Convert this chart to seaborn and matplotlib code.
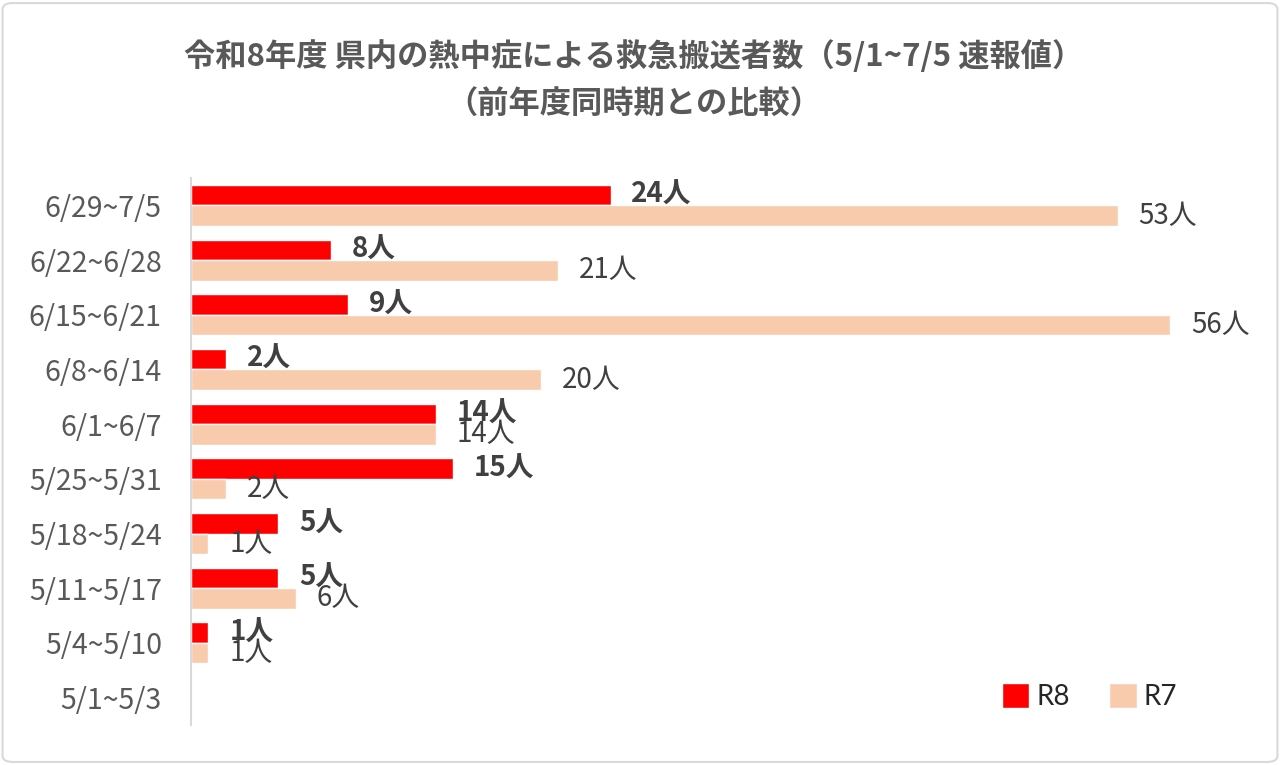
import pandas as pd
import matplotlib.pyplot as plt
import seaborn as sns
from matplotlib.patches import FancyBboxPatch

# Weekly heatstroke transports (top row = most recent week)
periods = ['6/29~7/5', '6/22~6/28', '6/15~6/21', '6/8~6/14', '6/1~6/7',
           '5/25~5/31', '5/18~5/24', '5/11~5/17', '5/4~5/10', '5/1~5/3']
r8 = [24, 8, 9, 2, 14, 15, 5, 5, 1, 0]
r7 = [53, 21, 56, 20, 14, 2, 1, 6, 1, 0]
series = ['R8', 'R7']
colors = {'R8': '#FF0000', 'R7': '#F8CBAD'}

title1 = '令和8年度 県内の熱中症による救急搬送者数（5/1~7/5 速報値）'
title2 = '（前年度同時期との比較）'

df = pd.DataFrame({'period': periods, 'R8': r8, 'R7': r7})
long_df = df.melt(id_vars='period', value_vars=series, var_name='year', value_name='count')

sns.set_style('white')
plt.rcParams['font.family'] = ['Noto Sans CJK JP', 'DejaVu Sans']

fig = plt.figure(figsize=(12.8, 7.65), dpi=100)
ax = fig.add_axes([0.1492, 0.0523, 0.8195, 0.715])

sns.barplot(data=long_df, x='count', y='period', hue='year', order=periods,
            hue_order=series, palette=colors, width=0.75, saturation=1,
            orient='h', ax=ax)

ax.set_xlim(0, 60)
ax.set_ylim(9.5, -0.5)
ax.set_xlabel('')
ax.set_ylabel('')
ax.set_xticks([])
ax.tick_params(axis='y', length=0, pad=21, labelsize=20.5, labelcolor='#595959')
for s in ['top', 'right', 'bottom']:
    ax.spines[s].set_visible(False)
ax.spines['left'].set_color('#D9D9D9')
ax.spines['left'].set_linewidth(1.5)

# data labels
for cont, name in zip(ax.containers, series):
    vals = df[name].tolist()
    labels = ['' if v == 0 else f'{v}人' for v in vals]
    ax.bar_label(cont, labels=labels, padding=15, fontsize=20, color='#404040',
                 fontweight='bold' if name == 'R8' else 'normal')

handles, labels = ax.get_legend_handles_labels()
ax.legend(handles, labels, ncol=2, frameon=False, loc='center',
          bbox_to_anchor=(0.851, 0.089), bbox_transform=fig.transFigure,
          handlelength=1.0, handleheight=1.0, handletextpad=0.25,
          columnspacing=1.4, prop={'family': 'Lato', 'size': 20})

fig.text(0.495, 1 - 57 / 765, title1, ha='center', va='center',
         fontsize=22.5, fontweight='bold', color='#595959')
fig.text(0.495, 1 - 105 / 765, title2, ha='center', va='center',
         fontsize=22.5, fontweight='bold', color='#595959')

fig.patches.append(FancyBboxPatch((0.002, 0.004), 0.996, 0.992,
                                  boxstyle='round,pad=0,rounding_size=0.008',
                                  transform=fig.transFigure, fill=False,
                                  ec='#D9D9D9', lw=1.5))

fig.savefig('out.png', dpi=100)
plt.close()
